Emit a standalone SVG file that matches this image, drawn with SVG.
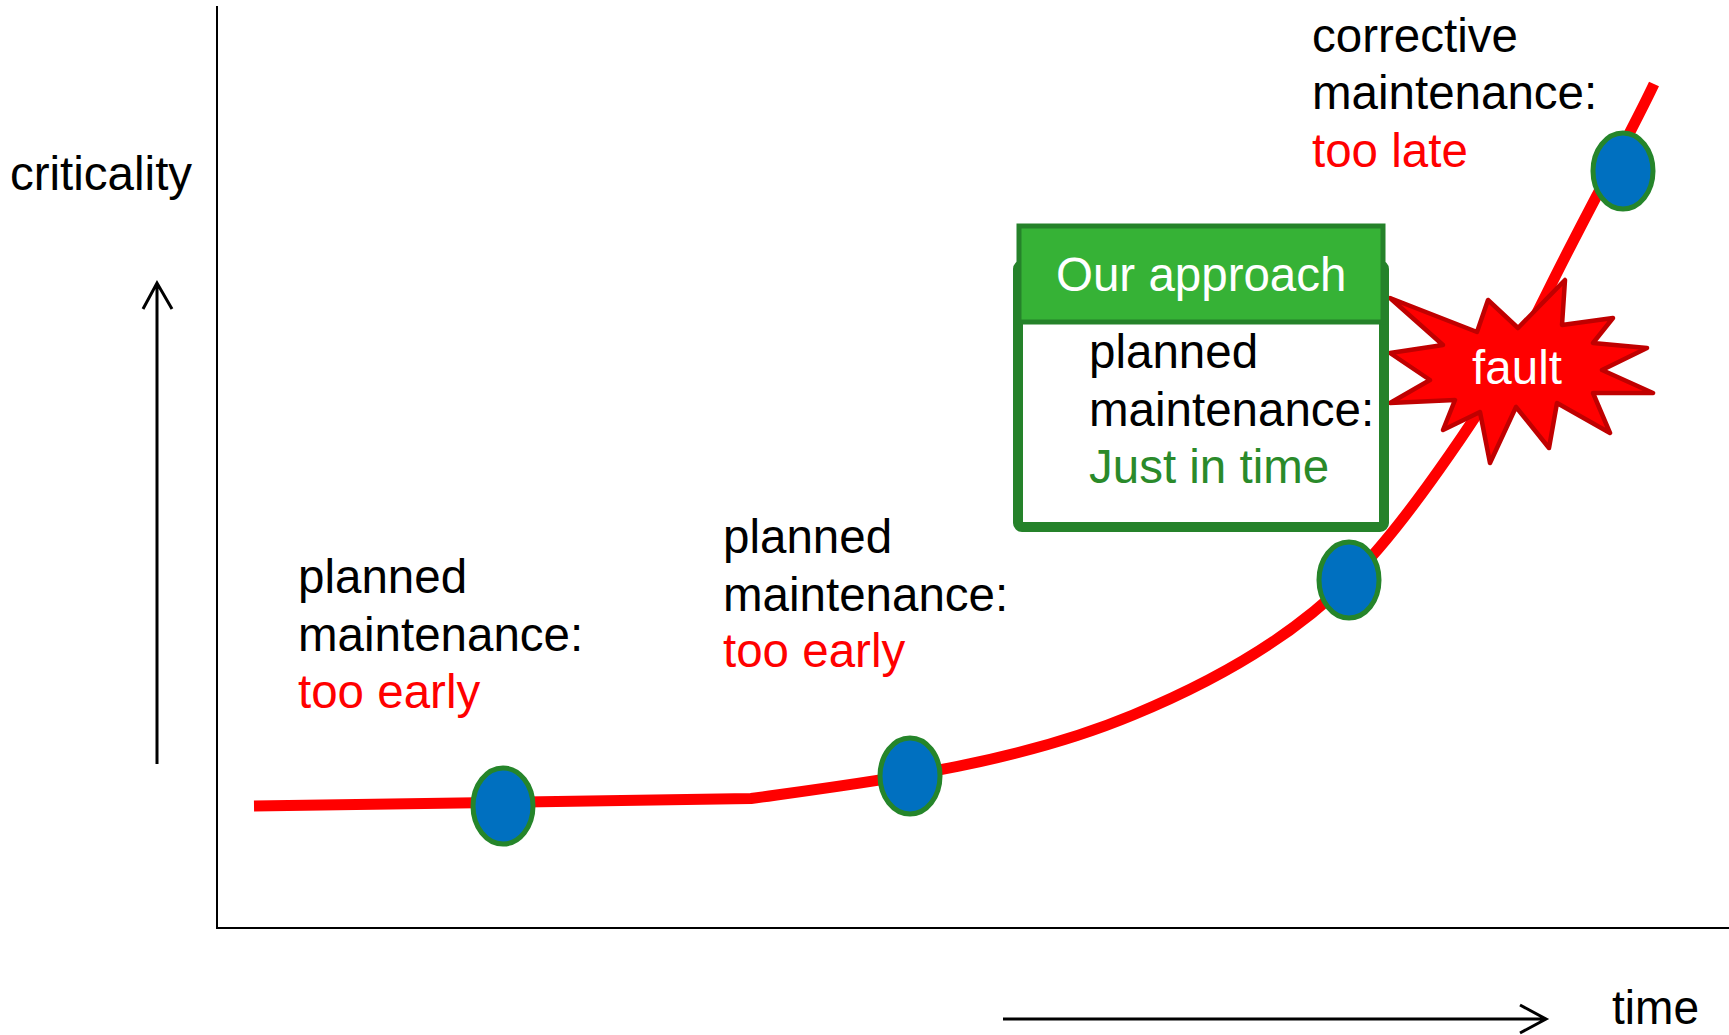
<svg xmlns="http://www.w3.org/2000/svg" width="1729" height="1035" viewBox="0 0 1729 1035">
<style>
text{font-family:"Liberation Sans",Arial,sans-serif;font-size:47.5px;fill:#000}
.red{fill:#ff0000}
.grn{fill:#2a8a2a}
.wht{fill:#ffffff}
.axis{stroke:#000;stroke-width:2;fill:none}
.arr{stroke:#000;stroke-width:3;fill:none}
.pt{fill:#0070c0;stroke:#25852a;stroke-width:5}
</style>
<rect width="1729" height="1035" fill="#fff"/>
<g id="axes">
<line class="axis" x1="217" y1="6" x2="217" y2="929"/>
<line class="axis" x1="216" y1="928" x2="1729" y2="928"/>
</g>
<g id="connectors">
<path id="curve" d="M254,806 L751,798.5 C878,781 1013,765 1133,715 C1213,682 1289,640 1349,580 C1400,532 1500,390 1547,293 C1577,231 1630,135 1654,84" fill="none" stroke="#ff0000" stroke-width="11"/>
<path id="y-arrow" class="arr" d="M157,764 V283 M143,309 L157,283 L172,309"/>
<path id="x-arrow" class="arr" d="M1003,1019 H1546 M1520,1005 L1546,1019 L1520,1033"/>
</g>
<g id="fault">
<polygon points="1390,298 1477,332 1488,300 1518,328 1565,280 1562,325 1613,318 1593,343 1647,348 1602,370 1653,393 1593,393 1610,433 1557,403 1549,448 1516,407 1490,463 1480,412 1443,430 1455,400 1390,403 1430,380 1390,353 1443,345" fill="#ff0000" stroke="#c00000" stroke-width="4.5" stroke-linejoin="round"/>
<text class="wht" x="1517" y="384" text-anchor="middle">fault</text>
</g>
<g id="approach">
<rect x="1018" y="265" width="366" height="262" rx="4" fill="#fff" stroke="#25822a" stroke-width="10"/>
<rect x="1019" y="226" width="364" height="96" fill="#36b236" stroke="#25822a" stroke-width="5"/>
<text class="wht" x="1056" y="291">Our approach</text>
<text x="1089" y="368">planned</text>
<text x="1089" y="426">maintenance:</text>
<text class="grn" x="1089" y="483">Just in time</text>
</g>
<g id="point1"><ellipse class="pt" cx="503" cy="806" rx="30" ry="38"/></g>
<g id="point2"><ellipse class="pt" cx="910" cy="776" rx="30" ry="38"/></g>
<g id="point3"><ellipse class="pt" cx="1349" cy="580" rx="30" ry="38"/></g>
<g id="point4"><ellipse class="pt" cx="1623" cy="171" rx="30" ry="38"/></g>
<g id="label-criticality"><text x="10" y="190">criticality</text></g>
<g id="label-time"><text x="1612" y="1024" textLength="87" lengthAdjust="spacingAndGlyphs">time</text></g>
<g id="label1">
<text x="298" y="593">planned</text>
<text x="298" y="651">maintenance:</text>
<text class="red" x="298" y="708">too early</text>
</g>
<g id="label2">
<text x="723" y="553">planned</text>
<text x="723" y="611">maintenance:</text>
<text class="red" x="723" y="667">too early</text>
</g>
<g id="label3">
<text x="1312" y="52">corrective</text>
<text x="1312" y="109">maintenance:</text>
<text class="red" x="1312" y="167">too late</text>
</g>
</svg>
